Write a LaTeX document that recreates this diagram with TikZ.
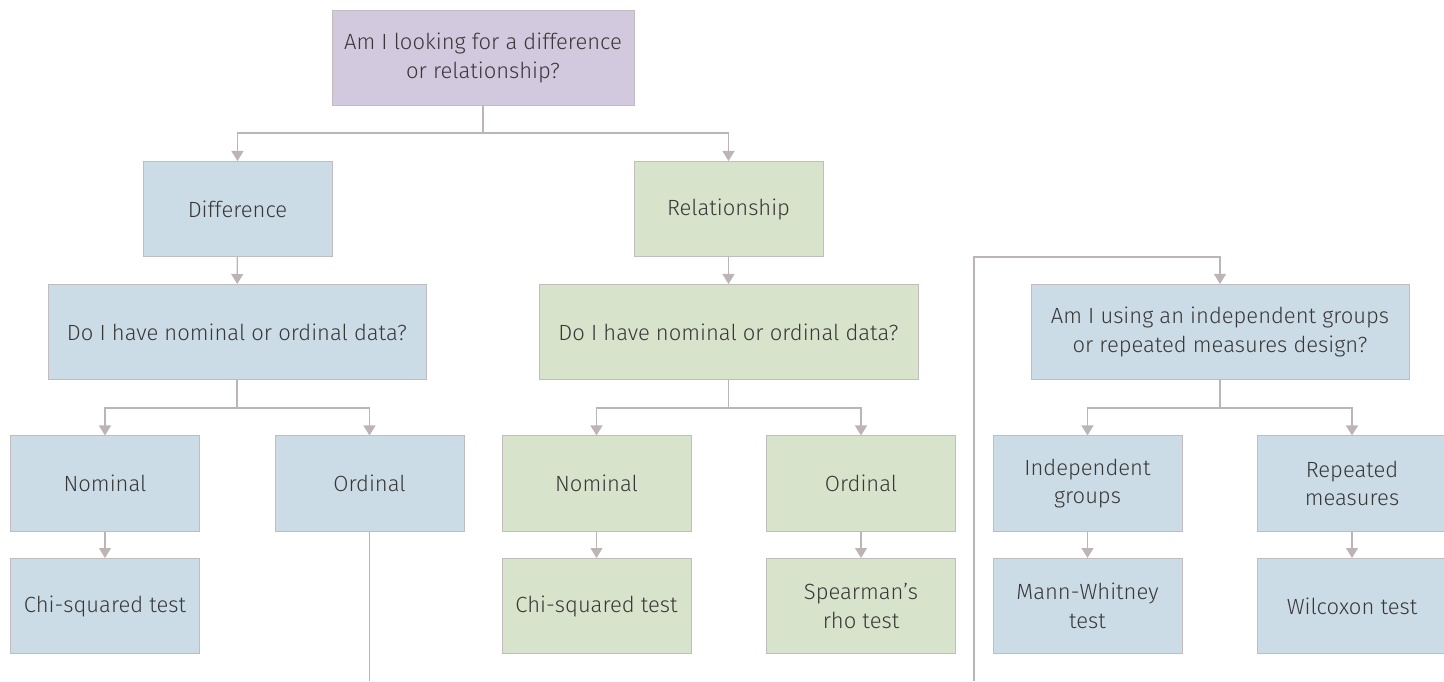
\documentclass[tikz,border=0pt]{standalone}
\usepackage{fontspec}
\setmainfont{Fira Sans}[UprightFont=* Light]
\usepackage{xcolor}
\usetikzlibrary{arrows.meta}
\definecolor{purplebox}{HTML}{D3C9DE}
\definecolor{bluebox}{HTML}{CCDCE6}
\definecolor{greenbox}{HTML}{D8E3CB}
\definecolor{edgegray}{HTML}{C4BCBC}
\definecolor{linkgray}{HTML}{BDB5B5}
\definecolor{textgray}{HTML}{383838}
\tikzset{
	box/.style={draw=edgegray, line width=1pt, text=textgray, align=center,
			inner sep=0pt, minimum width=189pt, minimum height=95pt,
			font=\fontsize{22}{28.5}\selectfont},
	qbox/.style={box, fill=purplebox, minimum width=302pt},
	dbox/.style={box, fill=bluebox},
	rbox/.style={box, fill=greenbox},
	link/.style={draw=linkgray, line width=1.3pt}
}

\begin{document}
\begin{tikzpicture}[x=1pt, y=1pt, >={Triangle[width=12pt,length=10pt]}]
		\useasboundingbox (0,0) rectangle (1444,681);
		% top question
		\node[qbox] (look) at (483,623) {Am I looking for a difference\\or relationship?};
		% difference branch
		\node[dbox] (diff) at (237.5,472) {Difference};
		\node[dbox, minimum width=378pt] (diffdata) at (237,349) {Do I have nominal or ordinal data?};
		\node[dbox] (diffnom) at (105,197.5) {Nominal};
		\node[dbox] (difford) at (369.5,197.5) {Ordinal};
		\node[dbox] (diffchi) at (105,75) {Chi-squared test};
		% relationship branch
		\node[rbox] (rel) at (728.5,472) {Relationship};
		\node[rbox, minimum width=379pt] (reldata) at (728.5,349) {Do I have nominal or ordinal data?};
		\node[rbox] (relnom) at (596.5,197.5) {Nominal};
		\node[rbox] (relord) at (861,197.5) {Ordinal};
		\node[rbox] (relchi) at (596.5,75) {Chi-squared test};
		\node[rbox] (relrho) at (861,75) {Spearman’s\\rho test};
		% design question
		\node[dbox, minimum width=378pt] (design) at (1220,349) {Am I using an independent groups\\or repeated measures design?};
		\node[dbox] (indep) at (1087.5,197.5) {Independent\\groups};
		\node[dbox] (repeat) at (1352,197.5) {Repeated\\measures};
		\node[dbox] (mann) at (1087.5,75) {Mann-Whitney\\test};
		\node[dbox] (wilc) at (1352,75) {Wilcoxon test};
		\coordinate (diffout) at (369.5,0);
		\coordinate (designin) at (974,0);
		% connectors
		\draw[link, ->] (look.south) -- ++(0,-27) -| (diff.north);
		\draw[link, ->] (look.south) -- ++(0,-27) -| (rel.north);
		\draw[link, ->] (diff) -- (diffdata);
		\draw[link, ->] (rel) -- (reldata);
		\draw[link, ->] (diffdata.south) -- ++(0,-28) -| (diffnom.north);
		\draw[link, ->] (diffdata.south) -- ++(0,-28) -| (difford.north);
		\draw[link, ->] (reldata.south) -- ++(0,-28) -| (relnom.north);
		\draw[link, ->] (reldata.south) -- ++(0,-28) -| (relord.north);
		\draw[link, ->] (diffnom) -- (diffchi);
		\draw[link, ->] (relnom) -- (relchi);
		\draw[link, ->] (relord) -- (relrho);
		\draw[link] (difford.south) -- (diffout);
		\draw[link, ->] (designin) -- ++(0,424) -| (design.north);
		\draw[link, ->] (design.south) -- ++(0,-28) -| (indep.north);
		\draw[link, ->] (design.south) -- ++(0,-28) -| (repeat.north);
		\draw[link, ->] (indep) -- (mann);
		\draw[link, ->] (repeat) -- (wilc);
	\end{tikzpicture}
\end{document}
